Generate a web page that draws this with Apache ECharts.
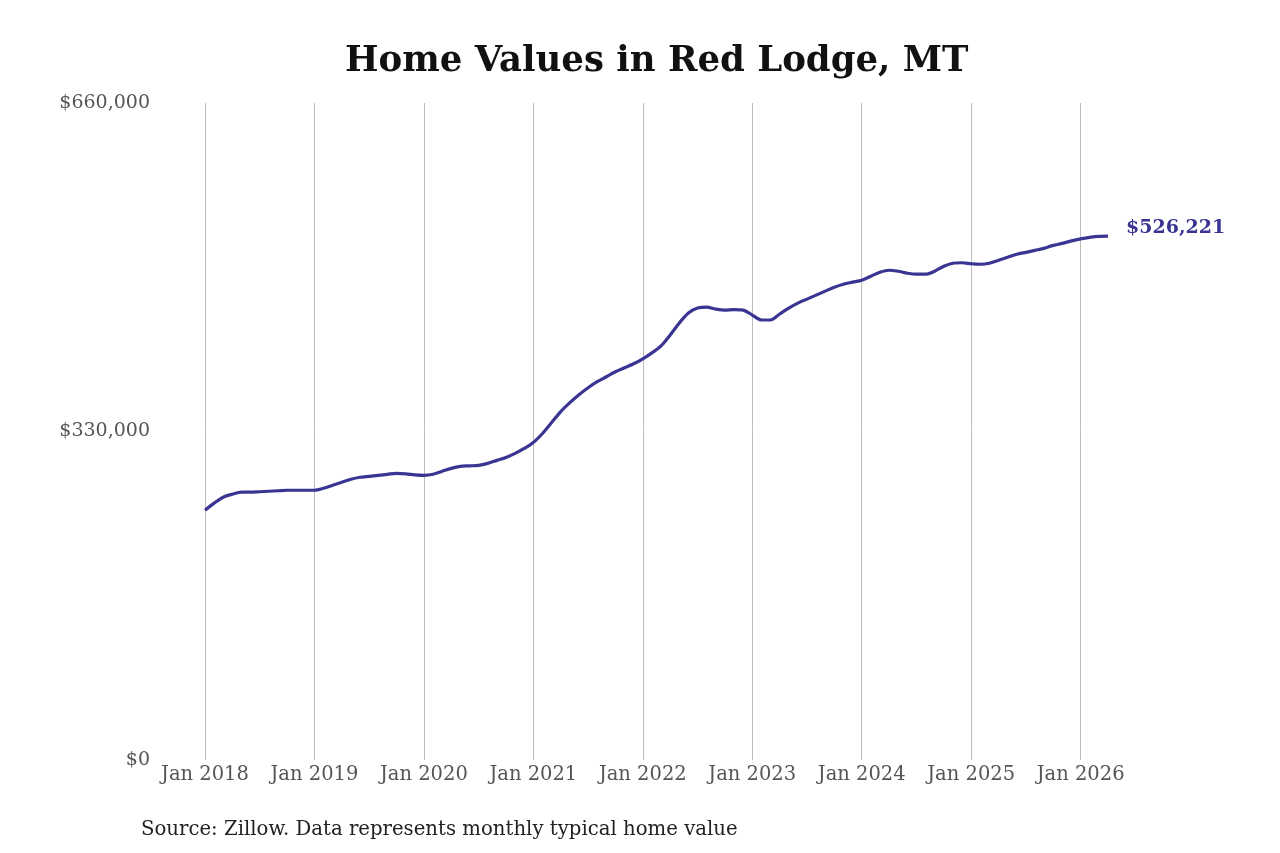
<!DOCTYPE html>
<html>
<head>
<meta charset="utf-8">
<script src="https://cdn.jsdelivr.net/npm/echarts@6/dist/echarts.min.js"></script>
<style>
  html, body { margin: 0; padding: 0; background: #fff; }
  #chart { width: 1280px; height: 853px; }
</style>
</head>
<body>
<div id="chart"></div>
<script>
// monthly typical home value, Jan 2018 .. Apr 2026 (thousands of dollars)
var values2018 = [251, 258, 264, 267, 269, 269, 269.5, 270, 270.5, 271, 271, 271];
var values2019 = [271, 273, 276, 279, 282, 284, 285, 286, 287, 288, 287.5, 286.5];
var values2020 = [286, 287, 290, 293, 295, 295.5, 296, 298, 301, 304, 308, 313];
var values2021 = [319, 328, 339, 350, 359, 367, 374, 380, 385, 390, 394, 398];
var values2022 = [403, 409, 416, 427, 439, 449, 454, 455, 453, 452, 452.5, 452];
var values2023 = [447, 442, 442, 448, 454, 459, 463, 467, 471, 475, 478, 480];
var values2024 = [482, 486, 490, 492, 491, 489, 488, 488, 491, 496, 499, 499.5];
var values2025 = [498.5, 498, 499, 502, 505, 508, 510, 512, 514, 517, 519, 521.5];
var values2026 = [523.5, 525, 526, 526.221];

var years = [2018, 2019, 2020, 2021, 2022, 2023, 2024, 2025, 2026];
var monthNames = ['Jan', 'Feb', 'Mar', 'Apr', 'May', 'Jun', 'Jul', 'Aug', 'Sep', 'Oct', 'Nov', 'Dec'];
var yTicks = [0, 330000, 660000];

var allValues = [].concat(values2018, values2019, values2020, values2021,
  values2022, values2023, values2024, values2025, values2026);

var categories = [];
var data = [];
for (var i = 0; i < allValues.length; i++) {
  categories.push(monthNames[i % 12] + ' ' + years[Math.floor(i / 12)]);
  data.push(Math.round(allValues[i] * 1000));
}

function money(v) {
  return '$' + v.toLocaleString('en-US');
}

var chart = echarts.init(document.getElementById('chart'));
var font = 'DejaVu Serif, serif';

chart.setOption({
  animation: false,
  backgroundColor: '#fff',
  title: [
    {
      text: 'Home Values in Red Lodge, MT',
      left: 340,
      top: 39,
      textStyle: { fontFamily: font, fontWeight: 'bold', fontSize: 35.5, color: '#111' }
    },
    {
      text: 'Source: Zillow. Data represents monthly typical home value',
      left: 136,
      top: 815,
      textStyle: { fontFamily: font, fontWeight: 'normal', fontSize: 19.7, color: '#222' }
    }
  ],
  grid: { left: 205, right: 172, top: 103, bottom: 93 },
  xAxis: {
    type: 'category',
    data: categories,
    boundaryGap: false,
    axisLine: { show: false },
    axisTick: { show: false },
    axisLabel: {
      interval: function (idx) { return idx % 12 === 0; },
      color: '#555',
      fontFamily: font,
      fontSize: 19.5,
      margin: 5
    },
    splitLine: {
      show: true,
      interval: function (idx) { return idx % 12 === 0; },
      lineStyle: { color: '#bdbdbd', width: 1 }
    }
  },
  yAxis: {
    type: 'value',
    min: yTicks[0],
    max: yTicks[yTicks.length - 1],
    interval: yTicks[1] - yTicks[0],
    axisLine: { show: false },
    axisTick: { show: false },
    splitLine: { show: false },
    axisLabel: {
      color: '#555',
      fontFamily: font,
      fontSize: 19,
      margin: 55,
      formatter: function (v) { return money(v); }
    }
  },
  series: [
    {
      type: 'line',
      data: data,
      smooth: 0.3,
      showSymbol: false,
      lineStyle: { color: '#3a3493', width: 3.2 },
      endLabel: {
        show: true,
        formatter: function (p) { return money(p.value); },
        color: '#3a3493',
        fontFamily: font,
        fontWeight: 'bold',
        fontSize: 19,
        distance: 18,
        offset: [0, -8]
      }
    }
  ]
});
</script>
</body>
</html>
